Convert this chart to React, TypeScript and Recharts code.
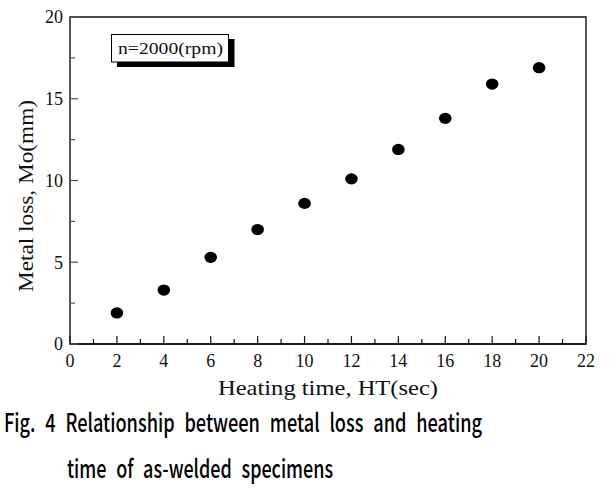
import { ScatterChart, Scatter, XAxis, YAxis, ReferenceArea, Label } from 'recharts'

const heatingTime = [2, 4, 6, 8, 10, 12, 14, 16, 18, 20]
const metalLoss = [1.9, 3.3, 5.3, 7.0, 8.6, 10.1, 11.9, 13.8, 15.9, 16.9]
const xMajorTicks = [0, 2, 4, 6, 8, 10, 12, 14, 16, 18, 20, 22]
const xMinorTicks = [1, 3, 5, 7, 9, 11, 13, 15, 17, 19, 21]
const yMajorTicks = [0, 5, 10, 15, 20]
const yMinorTicks = [2.5, 7.5, 12.5, 17.5]

const data = heatingTime.map((t, i) => ({ x: t, y: metalLoss[i] }))
const xTicks = [...xMajorTicks, ...xMinorTicks].sort((a, b) => a - b)
const yTicks = [...yMajorTicks, ...yMinorTicks].sort((a, b) => a - b)

const serif = '"Liberation Serif", "Times New Roman", serif'
const sans = '"Noto Sans CJK KR", "Noto Sans", sans-serif'
const X_MARGIN = 10
const Y_MARGIN = 7

// bottom ticks: inward tick line + label for the major ones
const XTick = (props: any) => {
  const { x, y, payload } = props
  const axisY = y - X_MARGIN
  const major = xMajorTicks.includes(payload.value)
  return (
    <g>
      <line x1={x} x2={x} y1={axisY} y2={axisY - (major ? 8 : 5)} stroke="#111" strokeWidth={1.2} />
      {major && (
        <text x={x} y={y} dy="0.71em" textAnchor="middle" fontFamily={serif} fontSize={18} fill="#111">
          {payload.value}
        </text>
      )}
    </g>
  )
}

const YTick = (props: any) => {
  const { x, y, payload } = props
  const axisX = x + Y_MARGIN
  const major = yMajorTicks.includes(payload.value)
  return (
    <g>
      <line x1={axisX} x2={axisX + (major ? 8 : 5)} y1={y} y2={y} stroke="#555" strokeWidth={1.2} />
      {major && (
        <text x={x} y={y} dy="0.36em" textAnchor="end" fontFamily={serif} fontSize={18} fill="#111">
          {payload.value}
        </text>
      )}
    </g>
  )
}

const XTitle = (props: any) => {
  const { viewBox } = props
  const cx = viewBox.x + viewBox.width / 2
  return (
    <text x={cx} y={viewBox.y + 51} textAnchor="middle" fontFamily={serif} fontSize={22} fill="#111" textLength={220} lengthAdjust="spacingAndGlyphs">
      Heating time, HT(sec)
    </text>
  )
}

const YTitle = () => {
  const cx = 33
  const cy = 196
  return (
    <text x={cx} y={cy} transform={`rotate(-90 ${cx} ${cy})`} textAnchor="middle" fontFamily={serif} fontSize={22} fill="#111" textLength={192} lengthAdjust="spacingAndGlyphs">
      Metal loss, Mo(mm)
    </text>
  )
}

const Dot = (props: any) => {
  const { cx, cy } = props
  return <ellipse cx={cx} cy={cy} rx={6.3} ry={5.6} fill="#000" />
}

export default function App() {
  return (
    <div style={{ position: 'absolute', left: 0, top: 0, width: 614, height: 492, background: '#fff' }}>
      <ScatterChart width={614} height={410} margin={{ top: 17, right: 28, left: 0, bottom: 0 }}>
        <ReferenceArea x1={0} x2={22} y1={0} y2={20} fill="none" stroke="#111" strokeWidth={1.4} ifOverflow="visible" />
        <XAxis
          type="number"
          dataKey="x"
          domain={[0, 22]}
          ticks={xTicks}
          interval={0}
          height={66}
          tickSize={0}
          tickMargin={X_MARGIN}
          tickLine={false}
          tick={<XTick />}
          stroke="#111"
          strokeWidth={1.5}
        >
          <Label content={<XTitle />} />
        </XAxis>
        <YAxis
          type="number"
          dataKey="y"
          domain={[0, 20]}
          ticks={yTicks}
          interval={0}
          width={70}
          tickSize={0}
          tickMargin={Y_MARGIN}
          tickLine={false}
          tick={<YTick />}
          stroke="#555"
          strokeWidth={2}
        >
          <Label content={<YTitle />} />
        </YAxis>
        <Scatter data={data} shape={<Dot />} isAnimationActive={false} />
      </ScatterChart>

      {/* legend box with drop shadow */}
      <svg width={240} height={72} style={{ position: 'absolute', left: 0, top: 0 }}>
        <rect x={117} y={39} width={117.5} height={28} fill="#000" />
        <rect x={111.5} y={34.5} width={117} height={27.5} fill="#fff" stroke="#000" strokeWidth={1} />
        <text x={118} y={54} fontFamily={serif} fontSize={17} fill="#111" textLength={105} lengthAdjust="spacingAndGlyphs">
          n=2000(rpm)
        </text>
      </svg>

      {/* figure caption */}
      <svg width={614} height={92} style={{ position: 'absolute', left: 0, top: 400 }}>
        <text transform="translate(4 32) scale(1 1.14)" x={0} y={0} fontFamily={sans} fontSize={22} fontWeight={500} wordSpacing={7} fill="#000" textLength={478} lengthAdjust="spacingAndGlyphs">
          Fig. 4 Relationship between metal loss and heating
        </text>
        <text transform="translate(67 78) scale(1 1.14)" x={0} y={0} fontFamily={sans} fontSize={22} fontWeight={500} wordSpacing={7} fill="#000" textLength={266} lengthAdjust="spacingAndGlyphs">
          time of as-welded specimens
        </text>
      </svg>
    </div>
  )
}
